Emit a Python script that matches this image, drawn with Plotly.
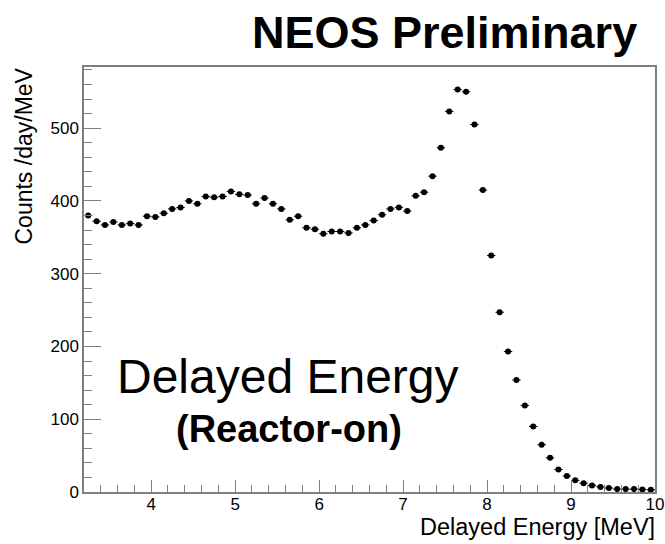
import numpy as np
import plotly.graph_objects as go

# Delayed-energy spectrum, reactor-on, 0.1 MeV bins from 3.2 to 10 MeV
bin_lo = 3.2
bin_width = 0.1
counts = [
    380, 372, 367, 371, 367, 369, 367, 379, 378, 383,
    389, 391, 400, 396, 406, 405, 406, 413, 409, 408,
    396, 404, 396, 389, 374, 379, 363, 361, 355, 358,
    358, 356, 363, 367, 373, 381, 389, 391, 386, 407,
    412, 434, 473, 523, 553, 550, 505, 415, 325, 247,
    193, 154, 119, 90, 65, 47, 31, 22, 16, 12,
    9, 7, 5.5, 4, 4, 4, 3.5, 3,
]
energy = [round(bin_lo + bin_width * (i + 0.5), 3) for i in range(len(counts))]

x_range = [3.2, 10]
y_range = [0, 584]
x_ticks = [4, 5, 6, 7, 8, 9, 10]
y_ticks = [0, 100, 200, 300, 400, 500]

FONT = "Liberation Sans, Arial, Helvetica, sans-serif"
FRAME = "#7f7f7f"

W, H = 665, 544
L, R, T, B = 84, 10, 67, 52
PW, PH = W - L - R, H - T - B


def px_x(px):
    return (px - L) / PW


def px_y(py):
    return (H - B - py) / PH


fig = go.Figure()
fig.add_trace(go.Scatter(
    x=energy,
    y=counts,
    mode="markers",
    marker=dict(color="black", size=6, symbol="circle"),
    error_x=dict(type="constant", value=bin_width / 2, color="black",
                 thickness=1, width=0),
    showlegend=False,
))

fig.update_layout(
    width=W,
    height=H,
    margin=dict(l=L, r=R, t=T, b=B, autoexpand=False),
    paper_bgcolor="white",
    plot_bgcolor="white",
    font=dict(family=FONT, color="black", size=17),
)

fig.update_xaxes(
    range=x_range,
    tickvals=x_ticks,
    ticktext=[str(v) for v in x_ticks],
    ticks="inside",
    ticklen=12,
    tickwidth=1,
    tickcolor=FRAME,
    minor=dict(ticks="inside", dtick=0.2, tick0=0, ticklen=7,
               tickcolor=FRAME, tickwidth=1),
    showline=True,
    linecolor=FRAME,
    linewidth=1.5,
    mirror=True,
    showgrid=False,
    zeroline=False,
    automargin=False,
    ticklabeloverflow="allow",
    ticklabelstandoff=-4,
    tickfont=dict(size=17),
)
fig.update_yaxes(
    range=y_range,
    tickvals=y_ticks,
    ticktext=[str(v) for v in y_ticks],
    ticks="inside",
    ticklen=17,
    tickwidth=1,
    tickcolor=FRAME,
    minor=dict(ticks="inside", dtick=20, tick0=0, ticklen=8,
               tickcolor=FRAME, tickwidth=1),
    showline=True,
    linecolor=FRAME,
    linewidth=1.5,
    mirror=True,
    showgrid=False,
    zeroline=False,
    automargin=False,
    ticklabeloverflow="allow",
    tickfont=dict(size=17),
)

# Axis titles, headline and in-frame labels
fig.add_annotation(text="Delayed Energy [MeV]", xref="paper", yref="paper",
                   x=px_x(657), y=px_y(512), xanchor="right", yanchor="top",
                   showarrow=False, font=dict(size=23.5))
fig.add_annotation(text="Counts /day/MeV", xref="paper", yref="paper",
                   x=px_x(24), y=px_y(66), xanchor="center", yanchor="top",
                   textangle=-90, showarrow=False, font=dict(size=23))
fig.add_annotation(text="<b>NEOS Preliminary</b>", xref="paper", yref="paper",
                   x=px_x(444.5), y=px_y(32), xanchor="center",
                   yanchor="middle", showarrow=False, font=dict(size=45))
fig.add_annotation(text="Delayed Energy", xref="paper", yref="paper",
                   x=px_x(288), y=px_y(376), xanchor="center",
                   yanchor="middle", showarrow=False, font=dict(size=48))
fig.add_annotation(text="<b>(Reactor-on)</b>", xref="paper", yref="paper",
                   x=px_x(288.5), y=px_y(429), xanchor="center",
                   yanchor="middle", showarrow=False, font=dict(size=38))

fig.write_html("out.html")
